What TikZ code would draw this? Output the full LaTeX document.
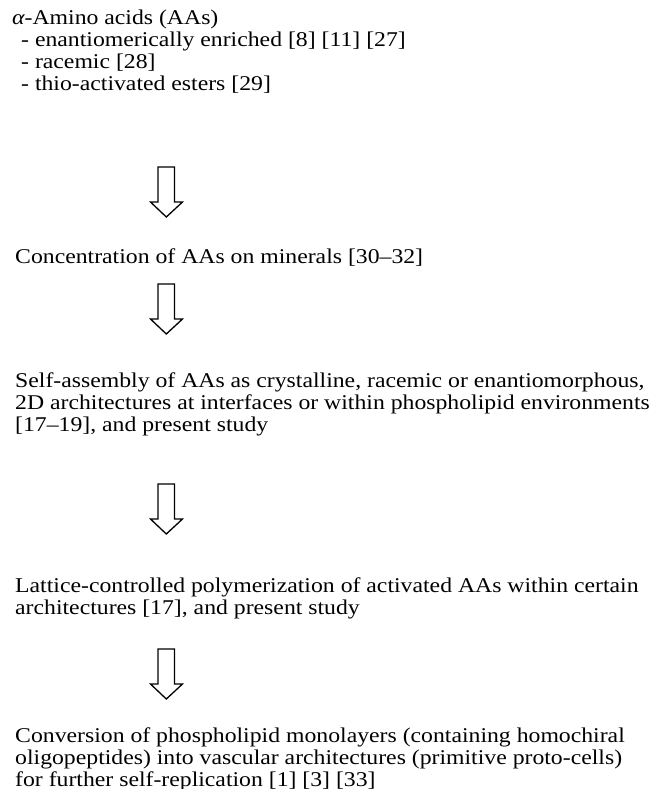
\documentclass[tikz,border=0pt]{standalone}
\usepackage{fontspec}
\setmainfont{Liberation Serif}[FakeStretch=1.13]
\usetikzlibrary{positioning}

\tikzset{
  stage/.style={anchor=base west, inner sep=0pt, align=left,
    font=\fontsize{21}{22}\selectfont},
  hollow/.style={line width=1.3pt, line join=miter, fill=white}
}

\begin{document}
\begin{tikzpicture}[x=1pt,y=-1pt,line cap=round]
  \useasboundingbox (0,0) rectangle (657,789);
  % stages (base = last line)
  \node[stage] (aa) at (12,91) {{\itshape α}-Amino acids (AAs)\\
    \hspace*{9pt}- enantiomerically enriched [8] [11] [27]\\
    \hspace*{9pt}- racemic [28]\\
    \hspace*{9pt}- thio-activated esters [29]};
  \node[stage] (conc) at (15,263) {Concentration of AAs on minerals [30--32]};
  \node[stage] (self) at (15,431) {Self-assembly of AAs as crystalline, racemic or enantiomorphous,\\
    2D architectures at interfaces or within phospholipid environments\\
    {[17--19]}, and present study};
  \node[stage] (latt) at (15,614) {Lattice-controlled polymerization of activated AAs within certain\\
    architectures [17], and present study};
  \node[stage] (conv) at (15,786) {Conversion of phospholipid monolayers (containing homochiral\\
    oligopeptides) into vascular architectures (primitive proto-cells)\\
    for further self-replication [1] [3] [33]};
  % hollow arrows
  \foreach \t in {167,284,484,649} {
    \draw[hollow] (158,\t) -- (174.5,\t) -- (174.5,\t+35) -- (182.5,\t+35)
      -- (166.3,\t+50) -- (150.5,\t+35) -- (158,\t+35) -- cycle;
  }
\end{tikzpicture}
\end{document}
